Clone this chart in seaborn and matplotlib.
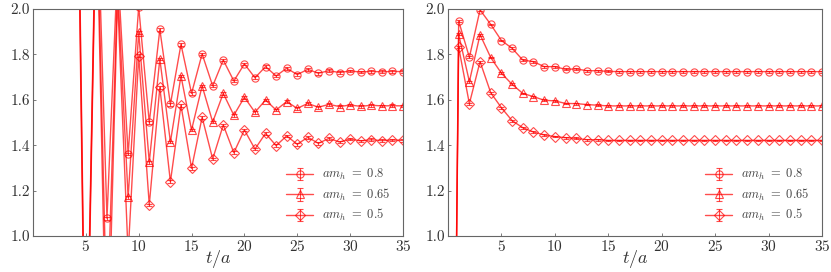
import numpy as np
import pandas as pd
import matplotlib
matplotlib.use("Agg")
import matplotlib.pyplot as plt
import seaborn as sns

# %% Data (effective mass vs t/a)
t = list(range(0, 36))
nan = np.nan

# left panel: oscillating correlator
left_m08 = [nan, nan, nan, nan, 3.6, 0.15, 2.6, 1.078, 2.19, 1.361, 2.01, 1.50,
            1.910, 1.580, 1.844, 1.628, 1.802, 1.661, 1.775, 1.683, 1.758, 1.697,
            1.746, 1.705, 1.739, 1.711, 1.734, 1.717, 1.728, 1.720, 1.727, 1.722,
            1.725, 1.723, 1.725, 1.724]
left_m065 = [nan, nan, nan, nan, 3.5, 0.10, 2.55, 0.60, 2.10, 1.170, 1.897, 1.325,
             1.780, 1.414, 1.705, 1.467, 1.661, 1.502, 1.628, 1.532, 1.611, 1.545,
             1.599, 1.555, 1.592, 1.562, 1.584, 1.567, 1.580, 1.570, 1.577, 1.571,
             1.576, 1.573, 1.574, 1.573]
left_m05 = [nan, nan, nan, nan, 3.4, 0.05, 2.5, 0.30, 2.05, 0.92, 1.794, 1.137,
            1.655, 1.239, 1.576, 1.298, 1.523, 1.339, 1.489, 1.367, 1.467, 1.383,
            1.452, 1.398, 1.441, 1.404, 1.435, 1.408, 1.430, 1.414, 1.427, 1.419,
            1.424, 1.420, 1.423, 1.421]

# right panel: smeared / improved correlator
right_m08 = [-2.8, 1.947, 1.787, 1.996, 1.932, 1.861, 1.827, 1.775, 1.768, 1.746,
             1.746, 1.734, 1.736, 1.728, 1.728, 1.725, 1.724, 1.724, 1.724, 1.724,
             1.724, 1.724, 1.724, 1.724, 1.724, 1.724, 1.724, 1.724, 1.724, 1.724,
             1.724, 1.724, 1.724, 1.724, 1.724, 1.724]
right_m065 = [-2.7, 1.888, 1.680, 1.887, 1.786, 1.717, 1.668, 1.628, 1.614, 1.598,
              1.595, 1.584, 1.583, 1.579, 1.576, 1.573, 1.573, 1.573, 1.573, 1.573,
              1.573, 1.573, 1.573, 1.573, 1.573, 1.573, 1.573, 1.573, 1.573, 1.573,
              1.573, 1.573, 1.573, 1.573, 1.573, 1.573]
right_m05 = [-2.6, 1.831, 1.583, 1.768, 1.631, 1.565, 1.508, 1.477, 1.458, 1.445,
             1.438, 1.433, 1.430, 1.424, 1.424, 1.421, 1.421, 1.421, 1.421, 1.421,
             1.421, 1.421, 1.421, 1.421, 1.421, 1.421, 1.421, 1.421, 1.421, 1.421,
             1.421, 1.421, 1.421, 1.421, 1.421, 1.421]

labels = [r"$am_h\ =\ 0.8$", r"$am_h\ =\ 0.65$", r"$am_h\ =\ 0.5$"]
markers = ["o", "^", "D"]
marker_sizes = [5.2, 5.6, 5.0]
err_left = 0.006
err_right = 0.004

# %% Style
sns.set_style("ticks")
plt.rcParams["font.family"] = ["cmr10", "DejaVu Serif"]
plt.rcParams["mathtext.fontset"] = "cm"
plt.rcParams["axes.formatter.use_mathtext"] = True
plt.rcParams["axes.unicode_minus"] = False

RED = "#ff0000"
GREY = "#666666"


def draw_panel(ax, series, yerr):
    for vals, mk, ms in zip(series, markers, marker_sizes):
        df = pd.DataFrame({"t": t, "m": vals}).dropna()
        sns.lineplot(data=df, x="t", y="m", ax=ax, color=RED, alpha=0.7,
                     linewidth=1.0, marker=mk, markersize=ms,
                     markerfacecolor="none", markeredgecolor=RED,
                     markeredgewidth=0.8, legend=False, sort=False)
        ax.errorbar(df["t"], df["m"], yerr=yerr, fmt="none", ecolor=RED,
                    alpha=0.7, elinewidth=0.8, capsize=2.5, capthick=0.8)

    ax.set_xlim(0, 35)
    ax.set_ylim(1.0, 2.0)
    ax.set_xticks([5, 10, 15, 20, 25, 30, 35])
    ax.set_yticks([1.0, 1.2, 1.4, 1.6, 1.8, 2.0])
    ax.set_yticklabels(["1.0", "1.2", "1.4", "1.6", "1.8", "2.0"])
    ax.set_xlabel(r"$t/a$", fontsize=13, color="#333333", labelpad=-4)
    ax.set_ylabel("")
    ax.tick_params(direction="in", length=2, width=0.6, colors=GREY,
                   labelsize=11, labelcolor="#333333", pad=2)
    for sp in ax.spines.values():
        sp.set_visible(True)
        sp.set_color(GREY)
        sp.set_linewidth(0.8)

    # errorbar-style legend glyphs: line+marker overlaid with the bar and caps
    leg_handles = []
    for mk, ms in zip(markers, marker_sizes):
        ebh = ax.errorbar([nan], [nan], yerr=[0.1], fmt="-" + mk, color=RED,
                          alpha=0.7, markersize=ms, markerfacecolor="none",
                          markeredgewidth=0.8, lw=1.0, elinewidth=0.8,
                          capsize=2.5, capthick=0.8)
        leg_handles.append(ebh)
    leg = ax.legend(leg_handles, labels, loc="lower right", frameon=False,
                    fontsize=9, handlelength=2.2, labelspacing=0.35,
                    borderaxespad=0.6, handletextpad=0.7)
    for txt in leg.get_texts():
        txt.set_color("#444444")


fig = plt.figure(figsize=(8.31, 2.72), dpi=100)
ax1 = fig.add_axes([0.0397, 0.1324, 0.4452, 0.8346])
ax2 = fig.add_axes([0.5391, 0.1324, 0.4500, 0.8346])

draw_panel(ax1, [left_m08, left_m065, left_m05], err_left)
draw_panel(ax2, [right_m08, right_m065, right_m05], err_right)

fig.savefig("out.png", dpi=100)
